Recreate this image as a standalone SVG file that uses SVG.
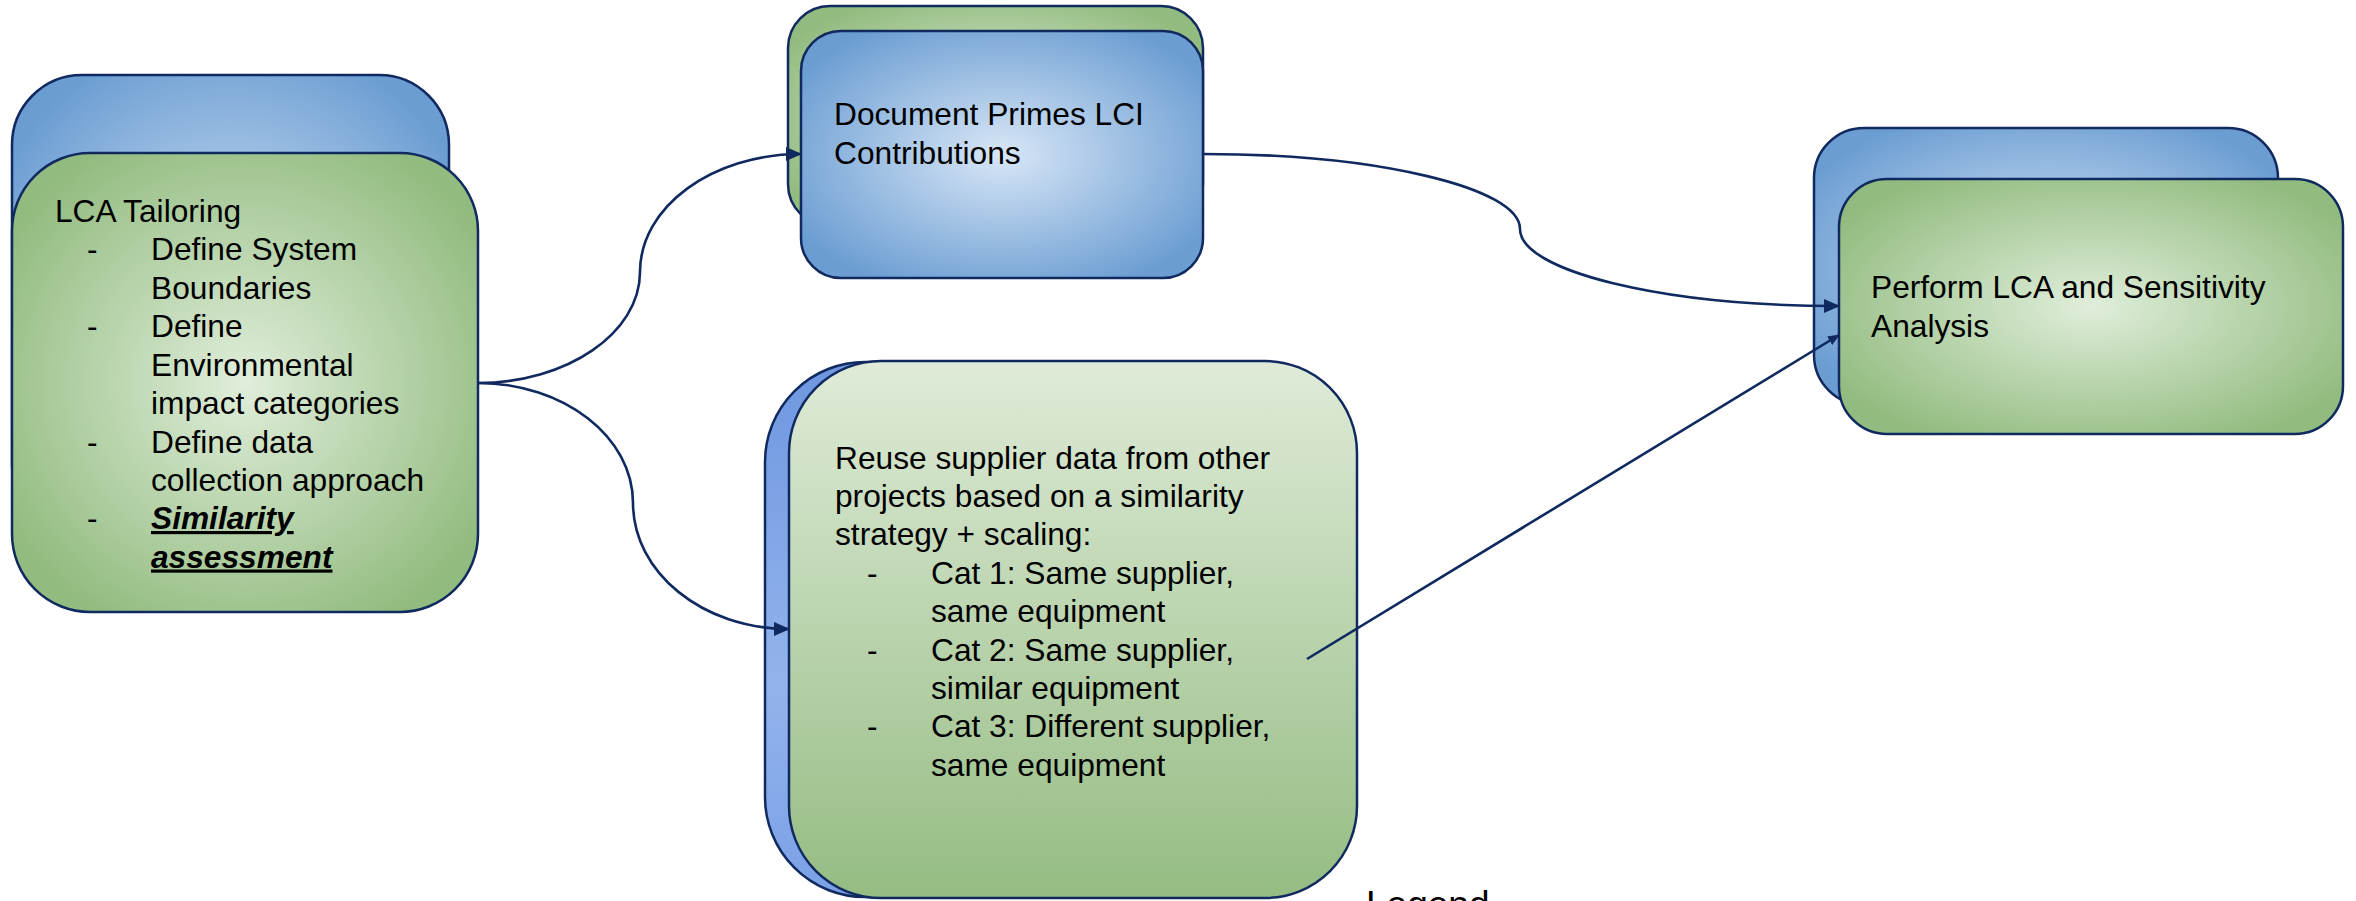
<svg xmlns="http://www.w3.org/2000/svg" width="2356" height="901" viewBox="0 0 2356 901">
  <style>
    .box { stroke: #10295f; stroke-width: 2.5; }
    .t { font-family: "Liberation Sans", Arial, sans-serif; font-size: 31.7px; fill: #000; }
    .em { font-weight: bold; font-style: italic; text-decoration: underline; }
    .link { fill: none; stroke: #10295f; stroke-width: 2.6; }
  </style>
  <defs>
    <radialGradient id="blueGlow" cx="0.5" cy="0.5" r="0.6">
      <stop offset="0" stop-color="#d8e6f6"/>
      <stop offset="1" stop-color="#6b9dd2"/>
    </radialGradient>
    <radialGradient id="greenGlow" cx="0.5" cy="0.5" r="0.6">
      <stop offset="0" stop-color="#e0eedb"/>
      <stop offset="1" stop-color="#92bb7f"/>
    </radialGradient>
    <linearGradient id="greenFade" x1="0" y1="0" x2="0" y2="1">
      <stop offset="0" stop-color="#dfebd8"/>
      <stop offset="1" stop-color="#95bc83"/>
    </linearGradient>
    <linearGradient id="blueStrip" x1="0" y1="0" x2="0" y2="1">
      <stop offset="0" stop-color="#6e97e0"/>
      <stop offset="0.6" stop-color="#93b3ec"/>
      <stop offset="1" stop-color="#7aa1e6"/>
    </linearGradient>
    <marker id="arrow" viewBox="0 0 16 14" refX="15" refY="7" markerWidth="16" markerHeight="14" markerUnits="userSpaceOnUse" orient="auto">
      <path d="M0,0 L16,7 L0,14 z" fill="#10295f"/>
    </marker>
    <marker id="arrowSmall" viewBox="0 0 12 10" refX="11" refY="5" markerWidth="12" markerHeight="10" markerUnits="userSpaceOnUse" orient="auto">
      <path d="M0,0 L12,5 L0,10 z" fill="#10295f"/>
    </marker>
  </defs>

  <!-- LCA tailoring -->
  <g id="lca-tailoring">
    <rect class="box" x="12" y="75" width="437" height="459" rx="70" fill="url(#blueGlow)"/>
    <rect class="box" x="12" y="153" width="466" height="459" rx="78" fill="url(#greenGlow)"/>
    <text class="t" x="55" y="222">LCA Tailoring</text>
    <text class="t" x="87" y="260">-</text>
    <text class="t" x="151" y="260">Define System</text>
    <text class="t" x="151" y="298.5">Boundaries</text>
    <text class="t" x="87" y="337">-</text>
    <text class="t" x="151" y="337">Define</text>
    <text class="t" x="151" y="375.5">Environmental</text>
    <text class="t" x="151" y="414">impact categories</text>
    <text class="t" x="87" y="452.5">-</text>
    <text class="t" x="151" y="452.5">Define data</text>
    <text class="t" x="151" y="491">collection approach</text>
    <text class="t" x="87" y="529">-</text>
    <text class="t em" x="151" y="529">Similarity</text>
    <text class="t em" x="151" y="567.5">assessment</text>
  </g>

  <!-- Document primes LCI -->
  <g id="document-primes">
    <rect class="box" x="788" y="6" width="415" height="220" rx="42" fill="url(#greenGlow)"/>
    <rect class="box" x="801" y="31" width="402" height="247" rx="40" fill="url(#blueGlow)"/>
    <text class="t" x="834" y="125">Document Primes LCI</text>
    <text class="t" x="834" y="163.5">Contributions</text>
  </g>

  <!-- Reuse supplier data -->
  <g id="reuse-supplier-data">
    <rect class="box" x="765" y="362" width="560" height="535" rx="100" fill="url(#blueStrip)"/>
    <rect class="box" x="789" y="361" width="568" height="537" rx="92" fill="url(#greenFade)"/>
    <text class="t" x="835" y="468.6">Reuse supplier data from other</text>
    <text class="t" x="835" y="507">projects based on a similarity</text>
    <text class="t" x="835" y="545.4">strategy + scaling:</text>
    <text class="t" x="867" y="583.8">-</text>
    <text class="t" x="931" y="583.8">Cat 1: Same supplier,</text>
    <text class="t" x="931" y="622.2">same equipment</text>
    <text class="t" x="867" y="660.6">-</text>
    <text class="t" x="931" y="660.6">Cat 2: Same supplier,</text>
    <text class="t" x="931" y="699">similar equipment</text>
    <text class="t" x="867" y="737.4">-</text>
    <text class="t" x="931" y="737.4">Cat 3: Different supplier,</text>
    <text class="t" x="931" y="775.8">same equipment</text>
  </g>

  <!-- Perform LCA -->
  <g id="perform-lca">
    <rect class="box" x="1814" y="128" width="464" height="277" rx="50" fill="url(#blueGlow)"/>
    <rect class="box" x="1839" y="179" width="504" height="255" rx="48" fill="url(#greenGlow)"/>
    <text class="t" x="1871" y="298">Perform LCA and Sensitivity</text>
    <text class="t" x="1871" y="336.5">Analysis</text>
  </g>

  <!-- Connectors -->
  <g id="connectors">
    <path class="link" d="M 478 383 C 567 383, 640 333, 640 272 C 640 207, 712 154, 801 154" marker-end="url(#arrow)"/>
    <path class="link" d="M 478 383 C 564 383, 633 437, 633 503 C 633 572, 702 629, 789 629" marker-end="url(#arrow)"/>
    <path class="link" d="M 1203 154 C 1378 154, 1520 188, 1520 229 C 1520 271, 1662 306, 1839 306" marker-end="url(#arrow)"/>
    <path class="link" d="M 1307 659 L 1839 335" stroke-width="2.3" marker-end="url(#arrowSmall)"/>
  </g>

  <text class="t" x="1366" y="917" style="font-size:37px">Legend</text>
</svg>
